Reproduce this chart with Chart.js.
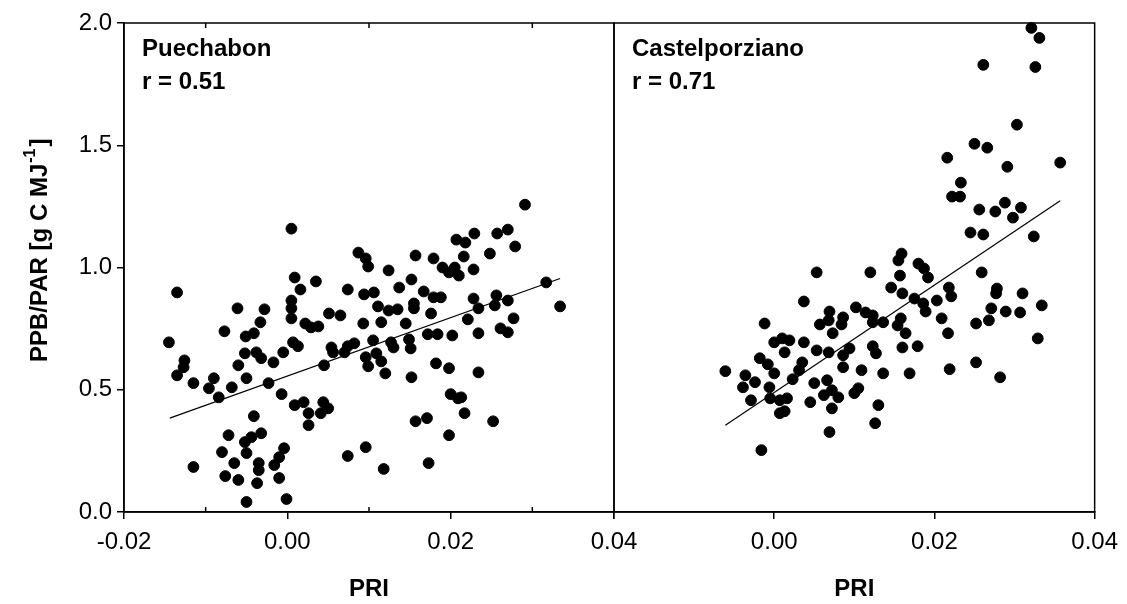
<!DOCTYPE html>
<html>
<head>
<meta charset="utf-8">
<script src="https://cdn.jsdelivr.net/npm/chart.js@4.4.0/dist/chart.umd.min.js"></script>
<style>
  body { margin: 0; background: #fff; }
  #wrap { position: relative; width: 1127px; height: 604px; }
  #wrap canvas { position: absolute; left: 0; top: 0; }
</style>
</head>
<body>
<div id="wrap">
  <canvas id="left" width="1127" height="604"></canvas>
  <canvas id="right" width="1127" height="604"></canvas>
</div>
<script>
// Values (PRI on x, PPB/PAR on y)
const xTicks = [-0.02, 0.00, 0.02, 0.04];
const xMinorTicks = [-0.01, 0.01, 0.03];
const yTicks = [0.0, 0.5, 1.0, 1.5, 2.0];

const puechabonPRI = [
  0.0005, 0.0009, 0.0016, 0.0005, 0.0005, 0.0005, 0.0022, -0.0135, -0.0061, -0.0028,
  -0.0033, -0.0077, -0.0051, -0.0041, -0.0145, 0.0007, 0.0013, -0.0126, -0.0127, -0.0135,
  -0.0115, -0.0052, -0.0038, -0.0032, -0.0017, -0.0005, -0.0060, -0.0050, -0.0090, -0.0096,
  -0.0084, -0.0068, -0.0023, -0.0007, 0.0009, 0.0020, 0.0026, 0.0026, -0.0041, -0.0072,
  -0.0032, -0.0052, -0.0044, -0.0080, -0.0050, -0.0065, -0.0035, -0.0035, -0.0016, -0.0010,
  -0.0004, -0.0115, -0.0076, -0.0060, -0.0037, -0.0010, -0.0050, -0.0001,
  0.0035, 0.0087, 0.0096, 0.0099, 0.0124, 0.0157, 0.0179, 0.0190, 0.0198, 0.0205,
  0.0207, 0.0074, 0.0094, 0.0106, 0.0137, 0.0152, 0.0167, 0.0179, 0.0188, 0.0111,
  0.0124, 0.0135, 0.0155, 0.0155, 0.0176, 0.0051, 0.0065, 0.0029, 0.0038, 0.0093,
  0.0115, 0.0145, 0.0172, 0.0184, 0.0202, 0.0105, 0.0149, 0.0151, 0.0127, 0.0130,
  0.0082, 0.0074, 0.0070, 0.0054, 0.0056, 0.0096, 0.0099, 0.0109, 0.0115, 0.0120,
  0.0045, 0.0152, 0.0182, 0.0198, 0.0200, 0.0209, 0.0044, 0.0050, 0.0041, 0.0157,
  0.0171, 0.0198, 0.0096, 0.0074, 0.0118, 0.0173,
  0.0291, 0.0218, 0.0229, 0.0257, 0.0270, 0.0279, 0.0248, 0.0216, 0.0210, 0.0228,
  0.0317, 0.0334, 0.0228, 0.0234, 0.0256, 0.0254, 0.0270, 0.0221, 0.0277, 0.0261,
  0.0270, 0.0234, 0.0234, 0.0213, 0.0217, 0.0252
];
const puechabonPPB = [
  1.159, 0.959, 0.910, 0.865, 0.833, 0.792, 0.771, 0.898, 0.833, 0.829,
  0.776, 0.739, 0.718, 0.731, 0.694, 0.694, 0.678, 0.620, 0.592, 0.559,
  0.527, 0.649, 0.653, 0.629, 0.612, 0.653, 0.600, 0.547, 0.547, 0.506,
  0.469, 0.510, 0.527, 0.482, 0.437, 0.449, 0.404, 0.355, 0.392, 0.314,
  0.322, 0.286, 0.306, 0.245, 0.241, 0.200, 0.200, 0.171, 0.192, 0.224,
  0.261, 0.184, 0.147, 0.131, 0.118, 0.139, 0.041, 0.053,
  0.943, 1.061, 1.037, 1.004, 0.988, 1.049, 1.037, 1.000, 0.980, 1.000,
  1.114, 0.910, 0.890, 0.898, 0.918, 0.951, 0.902, 0.878, 0.878, 0.841,
  0.824, 0.829, 0.853, 0.833, 0.812, 0.812, 0.804, 0.755, 0.759, 0.771,
  0.776, 0.771, 0.727, 0.727, 0.722, 0.702, 0.706, 0.669, 0.694, 0.673,
  0.690, 0.678, 0.653, 0.673, 0.653, 0.633, 0.596, 0.649, 0.616, 0.567,
  0.600, 0.551, 0.608, 0.588, 0.482, 0.465, 0.449, 0.424, 0.404, 0.371,
  0.384, 0.314, 0.265, 0.229, 0.176, 0.200,
  1.257, 1.102, 1.139, 1.139, 1.155, 1.086, 1.057, 1.045, 0.967, 0.992,
  0.939, 0.841, 0.873, 0.833, 0.886, 0.845, 0.865, 0.788, 0.792, 0.751,
  0.735, 0.731, 0.571, 0.469, 0.404, 0.371
];
const puechabonFitPRI = [-0.0144, 0.0334];
const puechabonFitPPB = [0.384, 0.955];

const castelPRI = [
  0.0053, 0.0037, -0.0012, 0.0069, 0.0057, 0.0068, 0.0073, 0.0000, 0.0010, 0.0019,
  0.0013, 0.0037, 0.0053, 0.0068, -0.0018, -0.0008, 0.0000, -0.0061, -0.0036, -0.0024,
  -0.0039, 0.0035, 0.0031, 0.0023, -0.0006, 0.0050, 0.0066, 0.0072, -0.0005, 0.0007,
  0.0016, -0.0029, 0.0045, 0.0062, 0.0072, 0.0007, 0.0013, 0.0069, -0.0016,
  0.0216, 0.0222, 0.0159, 0.0155, 0.0120, 0.0180, 0.0187, 0.0192, 0.0157, 0.0146,
  0.0160, 0.0218, 0.0175, 0.0186, 0.0189, 0.0203, 0.0209, 0.0217, 0.0102, 0.0114,
  0.0123, 0.0123, 0.0136, 0.0158, 0.0154, 0.0164, 0.0086, 0.0084, 0.0160, 0.0179,
  0.0123, 0.0127, 0.0094, 0.0086, 0.0086, 0.0109, 0.0136, 0.0169, 0.0219, 0.0080,
  0.0100, 0.0105, 0.0130, 0.0126,
  0.0321, 0.0331, 0.0261, 0.0326, 0.0303, 0.0250, 0.0266, 0.0357, 0.0291, 0.0233,
  0.0232, 0.0256, 0.0276, 0.0288, 0.0308, 0.0298, 0.0245, 0.0261, 0.0324, 0.0259,
  0.0221, 0.0278, 0.0277, 0.0310, 0.0334, 0.0271, 0.0289, 0.0307, 0.0252, 0.0268,
  0.0329, 0.0252, 0.0282
];
const castelPPB = [
  0.980, 0.861, 0.771, 0.820, 0.767, 0.784, 0.731, 0.694, 0.710, 0.702,
  0.653, 0.694, 0.661, 0.653, 0.629, 0.604, 0.567, 0.576, 0.559, 0.531,
  0.510, 0.612, 0.580, 0.543, 0.510, 0.527, 0.539, 0.498, 0.465, 0.457,
  0.465, 0.457, 0.449, 0.478, 0.424, 0.404, 0.412, 0.327, 0.253,
  1.449, 1.290, 1.057, 1.029, 0.980, 1.016, 0.996, 0.959, 0.967, 0.918,
  0.894, 0.918, 0.873, 0.853, 0.820, 0.865, 0.792, 0.731, 0.837, 0.816,
  0.804, 0.776, 0.776, 0.792, 0.763, 0.731, 0.796, 0.767, 0.673, 0.678,
  0.678, 0.649, 0.669, 0.641, 0.592, 0.580, 0.567, 0.567, 0.584, 0.469,
  0.486, 0.506, 0.437, 0.363,
  1.980, 1.939, 1.829, 1.820, 1.584, 1.506, 1.490, 1.429, 1.412, 1.347,
  1.290, 1.237, 1.229, 1.265, 1.245, 1.204, 1.143, 1.135, 1.127, 0.980,
  0.882, 0.914, 0.894, 0.894, 0.845, 0.833, 0.820, 0.816, 0.771, 0.784,
  0.710, 0.612, 0.551
];
const castelFitPRI = [-0.0061, 0.0357];
const castelFitPPB = [0.355, 1.273];

const FONT = '"Liberation Sans", Arial, sans-serif';
const zip = (xs, ys) => xs.map((x, i) => ({ x: x, y: ys[i] }));
const fmt = (v, d) => (Math.abs(v) < 1e-9 ? 0 : v).toFixed(d);

// box around the plot area, inward minor ticks and the site label
const framePlugin = {
  id: 'frame',
  afterDraw(chart, args, opts) {
    const { ctx, chartArea: a } = chart;
    const xs = chart.scales.x;
    ctx.save();
    ctx.strokeStyle = '#000';
    ctx.lineWidth = 1.5;
    ctx.strokeRect(a.left, a.top, a.right - a.left, a.bottom - a.top);
    if (opts.minor) {
      ctx.beginPath();
      xMinorTicks.forEach(v => {
        const px = xs.getPixelForValue(v);
        ctx.moveTo(px, a.bottom); ctx.lineTo(px, a.bottom - 5);
        ctx.moveTo(px, a.top); ctx.lineTo(px, a.top + 5);
      });
      ctx.stroke();
    }
    ctx.fillStyle = '#000';
    ctx.font = 'bold 24px ' + FONT;
    ctx.textBaseline = 'alphabetic';
    opts.labels.forEach((t, i) => ctx.fillText(t, a.left + 18, a.top + 33 + i * 33));
    ctx.restore();
  }
};

// rotated y title with the superscript unit
const yTitlePlugin = {
  id: 'ytitle',
  afterDraw(chart) {
    const ctx = chart.ctx;
    ctx.save();
    ctx.translate(40, 362);
    ctx.rotate(-Math.PI / 2);
    ctx.fillStyle = '#000';
    ctx.textBaseline = 'middle';
    ctx.font = 'bold 24px ' + FONT;
    let x = 0;
    const main = 'PPB/PAR [g C MJ';
    ctx.fillText(main, x, 0);
    x += ctx.measureText(main).width + 1;
    ctx.font = 'bold 16px ' + FONT;
    ctx.fillText('-1', x, -9);
    x += ctx.measureText('-1').width + 2;
    ctx.font = 'bold 24px ' + FONT;
    ctx.fillText(']', x, 0);
    ctx.restore();
  }
};

function makePanel(canvasId, pri, ppb, fitPri, fitPpb, opts) {
  return new Chart(document.getElementById(canvasId), {
    type: 'scatter',
    data: {
      datasets: [
        {
          data: zip(pri, ppb),
          backgroundColor: '#000',
          borderColor: '#000',
          pointRadius: 5.4,
          pointHoverRadius: 5.4,
          clip: false
        },
        {
          data: zip(fitPri, fitPpb),
          showLine: true,
          borderColor: '#000',
          borderWidth: 1.2,
          pointRadius: 0
        }
      ]
    },
    options: {
      responsive: false,
      animation: false,
      events: [],
      layout: { padding: opts.padding },
      plugins: {
        legend: { display: false },
        tooltip: { enabled: false },
        frame: { labels: opts.labels, minor: opts.minor }
      },
      scales: {
        x: {
          type: 'linear',
          min: -0.02,
          max: 0.04,
          afterBuildTicks: s => { s.ticks = xTicks.map(v => ({ value: v })); },
          afterFit: s => { s.height = 92; },
          grid: { drawOnChartArea: false, color: '#000', lineWidth: 1.5, tickLength: 7 },
          border: { color: '#000', width: 1.5 },
          ticks: {
            color: '#000',
            padding: 9,
            maxRotation: 0,
            autoSkip: false,
            font: { family: FONT, size: 24 },
            callback: v => (opts.hideFirstX && v < -0.019 ? '' : fmt(v, 2))
          },
          title: {
            display: true,
            text: 'PRI',
            color: '#000',
            padding: 0,
            font: { family: FONT, size: 24, weight: 'bold' }
          }
        },
        y: {
          display: opts.showY,
          min: 0,
          max: 2,
          afterBuildTicks: s => { s.ticks = yTicks.map(v => ({ value: v })); },
          afterFit: s => { s.width = opts.showY ? 124 : 0; },
          grid: { drawOnChartArea: false, color: '#000', lineWidth: 1.5, tickLength: 7 },
          border: { color: '#000', width: 1.5 },
          ticks: {
            color: '#000',
            padding: 5,
            font: { family: FONT, size: 24 },
            callback: v => fmt(v, 1)
          }
        }
      }
    },
    plugins: opts.showY ? [framePlugin, yTitlePlugin] : [framePlugin]
  });
}

makePanel('left', puechabonPRI, puechabonPPB, puechabonFitPRI, puechabonFitPPB, {
  padding: { left: 0, right: 513, top: 23, bottom: 0 },
  labels: ['Puechabon', 'r = 0.51'],
  minor: true,
  showY: true,
  hideFirstX: false
});

makePanel('right', castelPRI, castelPPB, castelFitPRI, castelFitPPB, {
  padding: { left: 614, right: 26, top: 23, bottom: 0 },
  labels: ['Castelporziano', 'r = 0.71'],
  minor: false,
  showY: false,
  hideFirstX: true
});
</script>
</body>
</html>
